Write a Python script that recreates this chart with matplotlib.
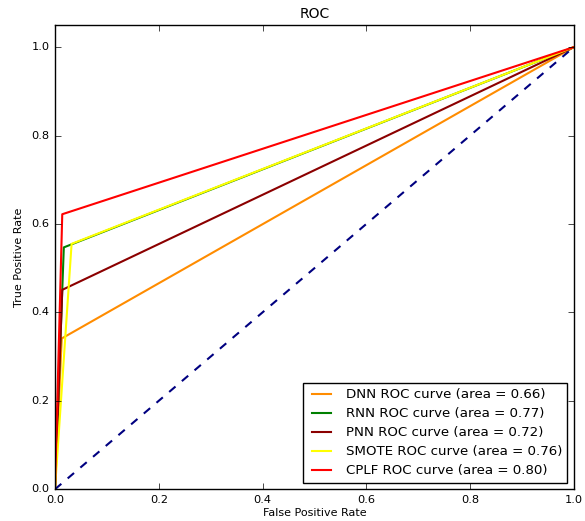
import matplotlib
matplotlib.use('Agg')
import matplotlib.pyplot as plt

plt.style.use('classic')
plt.rcParams['figure.facecolor'] = 'white'
plt.rcParams['savefig.facecolor'] = 'white'
plt.rcParams['font.size'] = 8

# ROC points: (0,0) -> (fpr, tpr) -> (1,1)
models = ['DNN', 'RNN', 'PNN', 'SMOTE', 'CPLF']
fpr_pts = [0.013, 0.017, 0.014, 0.032, 0.014]
tpr_pts = [0.341, 0.547, 0.451, 0.555, 0.622]
aucs = [0.66, 0.77, 0.72, 0.76, 0.80]
colors = ['darkorange', 'green', 'darkred', 'yellow', 'red']

fig, ax = plt.subplots(figsize=(5.85, 5.21), dpi=100)

for name, f, t, a, c in zip(models, fpr_pts, tpr_pts, aucs, colors):
    ax.plot([0, f, 1], [0, t, 1], color=c, lw=1.5,
            label='%s ROC curve (area = %0.2f)' % (name, a))

ax.plot([0, 1], [0, 1], color='navy', lw=1.5, linestyle='--')

ax.set_xlim(0.0, 1.0)
ax.set_ylim(0.0, 1.05)
ax.set_xlabel('False Positive Rate', fontsize=8, labelpad=2)
ax.set_ylabel('True Positive Rate', fontsize=8)
ax.set_title('ROC', fontsize=10)
ax.tick_params(labelsize=8.2)
ax.legend(loc='lower right', fontsize=9.6, labelspacing=0.45)

plt.subplots_adjust(left=0.094, right=0.981, top=0.952, bottom=0.061)
plt.savefig('out.png', dpi=100)
